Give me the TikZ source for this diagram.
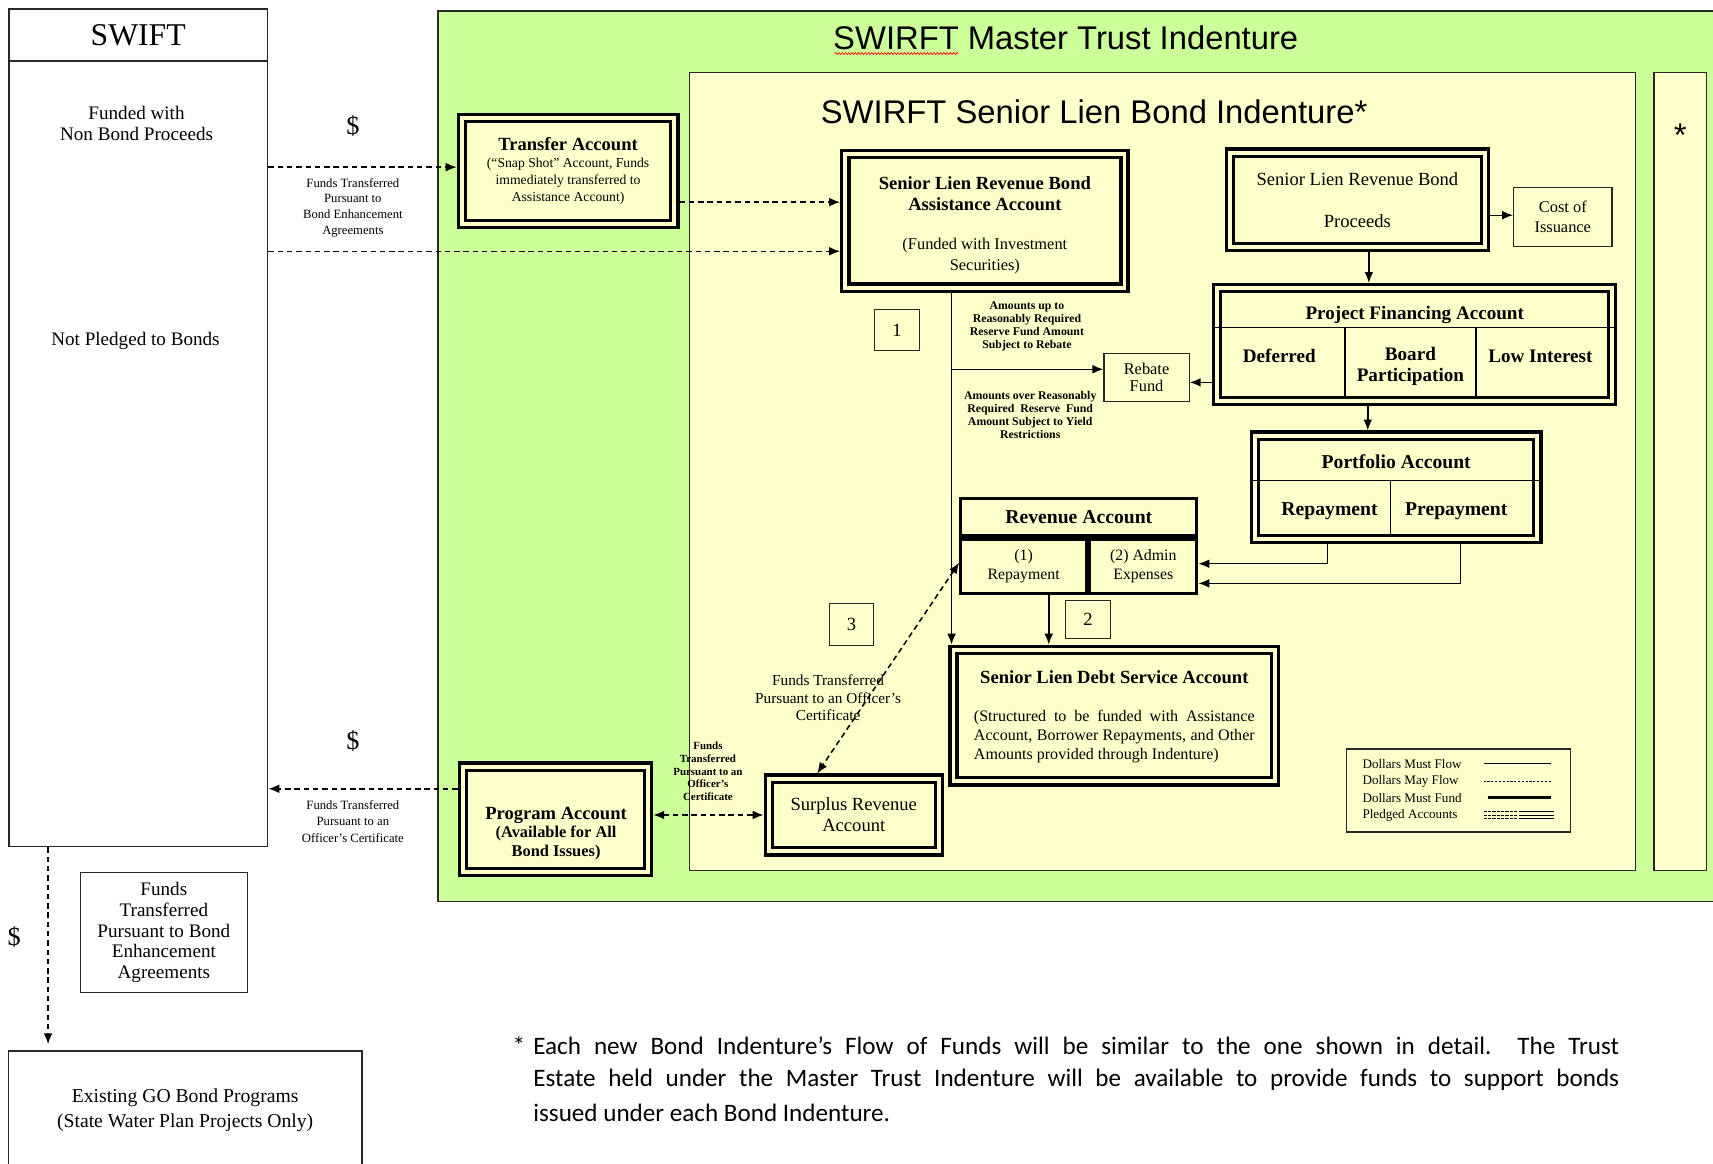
\documentclass[tikz,border=0pt]{standalone}
\usepackage{fontspec}
\setmainfont{Liberation Serif}
\newfontfamily\arialfam{Liberation Sans}
\newfontfamily\califam{Carlito}
\usetikzlibrary{arrows.meta,decorations.pathmorphing}
\definecolor{mgreen}{RGB}{204,255,153}
\definecolor{myel}{RGB}{255,255,204}
\definecolor{edge}{RGB}{40,40,40}
\newcommand\myfs[2]{\fontsize{#1}{#2}\selectfont}
\begin{document}
\begin{tikzpicture}[x=1pt,y=-1pt,
 >={Latex[length=10pt,width=8pt]},
 pledged/.style={draw=black,line width=3pt,double=myel,double distance=3.5pt,fill=myel,outer sep=4.75pt,inner sep=0pt,align=center},
 thinbox/.style={draw=edge,line width=1.1pt,fill=myel,inner sep=0pt,align=center},
 thickbox/.style={draw=black,line width=3pt,fill=myel,inner sep=0pt,align=center},
 panel/.style={draw=edge,line width=1.1pt,fill=myel,inner sep=0pt},
 lbl/.style={inner sep=0pt,align=center},
 mustflow/.style={draw=black,line width=1.3pt,->},
 mayflow/.style={draw=black,line width=1.4pt,dash pattern=on 5pt off 3.5pt,->},
 divline/.style={draw=black,line width=1.2pt},
 sanstitle/.style={inner sep=0pt,font=\arialfam\myfs{30}{34}},
]
\useasboundingbox (0,0) rectangle (1568,1065);
\fill[white] (0,0) rectangle (1568,1065);

% Master trust (green)
\fill[mgreen] (401,10) rectangle (1568,825);
\draw[draw=edge,line width=1.3pt] (1568,10) -- (401,10) -- (401,825) -- (1568,825);
\node[sanstitle] (mtitle) at (975.5,35) {SWIRFT Master Trust Indenture};
\draw[red,line width=0.6pt,decorate,decoration={snake,amplitude=0.9pt,segment length=3pt}] (764,49) -- (877,49);

% Senior lien indenture (yellow) and strip
\node[panel,minimum width=866pt,minimum height=731pt] (senior) at (1064,431.5) {};
\node[panel,minimum width=48pt,minimum height=731pt] (strip) at (1538,431.5) {};
\node[sanstitle] (stitle) at (1001.5,102) {SWIRFT Senior Lien Bond Indenture*};
\node[sanstitle] (stripstar) at (1538,124) {*};

% SWIFT column
\node[thinbox,fill=white,line width=1.4pt,minimum width=237pt,minimum height=767pt] (swift) at (126.5,391.5) {};
\coordinate (swdiv) at (0,56);
\draw[draw=edge,line width=1.4pt] (swift.west |- swdiv) -- (swift.east |- swdiv);
\node[lbl,font=\myfs{29}{32}] (swiftt) at (126.5,32) {SWIFT};
\node[lbl,font=\myfs{17.5}{20}] (swiftf) at (125,113) {Funded with\\Non Bond Proceeds};
\node[lbl,font=\myfs{17.5}{20}] (swiftn) at (124,312) {Not Pledged to Bonds};

\node[lbl,font=\myfs{24}{26}] (dol1) at (323,115) {\$};
\node[lbl,font=\myfs{11.6}{14.3}] (lblbe) at (323,190) {Funds Transferred\\Pursuant to\\Bond Enhancement\\Agreements};

% Transfer account
\node[pledged,minimum width=194.5pt,minimum height=97.5pt,font=\myfs{12.5}{15.5}] (transfer) at (520,156.5) {\bfseries\myfs{17}{15.5}Transfer Account\\\mdseries(“Snap Shot” Account, Funds\\\mdseries immediately transferred to\\\mdseries Assistance Account)};

% Assistance account
\node[pledged,minimum width=255.5pt,minimum height=122.5pt] (assist) at (901.5,202) {};
\node[lbl,font=\myfs{15}{19}] (assisttxt) at (901.5,206) {\bfseries\myfs{17}{19}Senior Lien Revenue Bond\\\bfseries\myfs{17}{19}Assistance Account\\[17pt]\mdseries(Funded with Investment\\\mdseries Securities)};

% Proceeds
\node[pledged,minimum width=233.5pt,minimum height=86.5pt,font=\myfs{17}{19}] (proceeds) at (1242.5,183) {Senior Lien Revenue Bond\\[19pt]Proceeds};
\node[thinbox,minimum width=90pt,minimum height=54pt,font=\myfs{15}{19}] (cost) at (1430.5,198.5) {Cost of\\Issuance};

% Project financing
\node[pledged,minimum width=361.5pt,minimum height=103.5pt] (projfin) at (1294.5,315.5) {};
\coordinate (pfh) at (0,300);
\draw[divline] ([xshift=2pt]projfin.west |- pfh) -- ([xshift=-2pt]projfin.east |- pfh);
\draw[divline] (1231,300) -- (1231,362.5);
\draw[divline] (1351,300) -- (1351,362.5);
\node[lbl,font=\bfseries\myfs{17.5}{19}] (pfat) at (1295,288) {Project Financing Account};
\node[lbl,font=\bfseries\myfs{17.5}{19}] (pfad) at (1171,326) {Deferred};
\node[lbl,font=\bfseries\myfs{17.5}{19}] (pfab) at (1291,335.5) {Board\\Participation};
\node[lbl,font=\bfseries\myfs{17.5}{19}] (pfal) at (1410,326) {Low Interest};

% Rebate fund, box 1
\node[thinbox,minimum width=78pt,minimum height=44pt,font=\myfs{15}{15}] (rebate) at (1049.5,345.5) {Rebate\\Fund};
\node[thinbox,minimum width=41pt,minimum height=37pt,font=\myfs{17}{19}] (n1) at (821,302) {1};
\node[lbl,font=\bfseries\myfs{10.8}{12}] (amt1) at (940,299) {Amounts up to\\Reasonably Required\\Reserve Fund Amount\\Subject to Rebate};
\node[lbl,font=\bfseries\myfs{10.8}{12}] (amt2) at (943,380) {Amounts over Reasonably\\Required\ \ Reserve\ \ Fund\\Amount Subject to Yield\\Restrictions};

% Portfolio
\node[pledged,minimum width=258.5pt,minimum height=94.5pt] (portfolio) at (1278,446) {};
\coordinate (pfo) at (0,440);
\draw[divline] ([xshift=2pt]portfolio.west |- pfo) -- ([xshift=-2pt]portfolio.east |- pfo);
\draw[divline] (1273,440) -- (1273,489.5);
\node[lbl,font=\bfseries\myfs{18}{20}] (pot) at (1278,423) {Portfolio Account};
\node[lbl,font=\bfseries\myfs{18}{20}] (por) at (1217,468) {Repayment};
\node[lbl,font=\bfseries\myfs{18}{20}] (pop) at (1333,468) {Prepayment};

% Revenue account
\node[thickbox,minimum width=216pt,minimum height=34pt,font=\bfseries\myfs{18}{20}] (revhead) at (987.5,473.5) {Revenue Account};
\node[thickbox,minimum width=115pt,minimum height=50pt,font=\myfs{14.5}{17}] (rev1) at (937,518.5) {(1)\\Repayment};
\node[thickbox,minimum width=98pt,minimum height=50pt,font=\myfs{14.5}{17}] (rev2) at (1046.5,518.5) {(2) Admin\\Expenses};

\node[thinbox,minimum width=41pt,minimum height=35pt,font=\myfs{17}{19}] (n2) at (996,567) {2};
\node[thinbox,minimum width=40pt,minimum height=38pt,font=\myfs{17}{19}] (n3) at (779.5,571.5) {3};

% Debt service
\node[pledged,minimum width=294.5pt,minimum height=120.5pt] (debt) at (1020,655) {};
\node[lbl,font=\myfs{14.7}{17.5}] (debttxt) at (1020,656) {\bfseries\myfs{17}{17.5}Senior Lien Debt Service Account\\[17pt]\mdseries\makebox[257pt][s]{(Structured to be funded with Assistance}\\\mdseries\makebox[257pt][s]{Account, Borrower Repayments, and Other}\\\mdseries\makebox[257pt][l]{Amounts provided through Indenture)}};

% Surplus, Program
\node[pledged,minimum width=155.5pt,minimum height=66.5pt,font=\myfs{17}{19}] (surplus) at (781.5,746) {Surplus Revenue\\Account};
\node[pledged,minimum width=169.5pt,minimum height=96.5pt] (program) at (508.5,750) {};
\node[lbl,font=\bfseries\myfs{15}{17}] (progtxt) at (509,763) {\bfseries\myfs{17}{17}Program Account\\\bfseries(Available for All\\\bfseries Bond Issues)};

\node[lbl,font=\myfs{24}{26}] (dol2) at (323,678) {\$};
\node[lbl,font=\myfs{11.6}{14.8}] (lbloc) at (323,752) {Funds Transferred\\Pursuant to an\\Officer’s Certificate};
\node[lbl,font=\myfs{14}{16}] (ocl) at (758,639) {Funds Transferred\\Pursuant to an Officer’s\\Certificate};
\node[lbl,font=\bfseries\myfs{10}{11.5}] (psl) at (648,706) {Funds\\Transferred\\Pursuant to an\\Officer’s\\Certificate};

% Legend
\node[thinbox,minimum width=205pt,minimum height=76pt] (legend) at (1335,723.5) {};
\node[lbl,anchor=west,font=\myfs{12}{13}] (lg1) at (1247,699) {Dollars Must Flow};
\node[lbl,anchor=west,font=\myfs{12}{13}] (lg2) at (1247,715) {Dollars May Flow};
\node[lbl,anchor=west,font=\myfs{12}{13}] (lg3) at (1247,730) {Dollars Must Fund};
\node[lbl,anchor=west,font=\myfs{12}{13}] (lg4) at (1247,746) {Pledged Accounts};
\draw[line width=1pt] (1358,699) -- (1420,699);
\draw[line width=0.9pt,dash pattern=on 2pt off 1.5pt] (1358,715) -- (1420,715);
\draw[line width=2.5pt] (1362,730) -- (1420,730);
\foreach \yy in {743,746,749} {
  \draw[line width=0.8pt,dash pattern=on 3pt off 1pt] (1358,\yy) -- (1393,\yy);
  \draw[line width=0.8pt] (1393,\yy) -- (1422,\yy);
}

% Bottom left
\node[thinbox,fill=white,minimum width=153pt,minimum height=110pt,font=\myfs{17.5}{19}] (fundsbox) at (150,853.5) {Funds\\Transferred\\Pursuant to Bond\\Enhancement\\Agreements};
\node[lbl,font=\myfs{24}{26}] (dol3) at (13,858) {\$};
\node[lbl,minimum width=323pt,minimum height=109pt,font=\myfs{18}{23}] (gobond) at (169.5,1016.5) {Existing GO Bond Programs\\(State Water Plan Projects Only)};
\coordinate (pgbot) at (0,1066);
\draw[draw=edge,line width=1.4pt] (gobond.north west |- pgbot) -- (gobond.north west) -- (gobond.north east) -- (gobond.north east |- pgbot);

% Footnote
\node[lbl,font=\califam\myfs{23}{31}] (fnstar) at (475,957) {*};
\node[lbl,anchor=west,font=\califam\myfs{23}{31}] (fn1) at (488,957) {\makebox[994pt][s]{Each new Bond Indenture’s Flow of Funds will be similar to the one shown in detail.\ \ The Trust}};
\node[lbl,anchor=west,font=\califam\myfs{23}{31}] (fn2) at (488,988) {\makebox[994pt][s]{Estate held under the Master Trust Indenture will be available to provide funds to support bonds}};
\node[lbl,anchor=west,font=\califam\myfs{23}{31}] (fn3) at (488,1019) {issued under each Bond Indenture.};

% Connectors
\draw[mayflow] ([yshift=3.5pt]transfer.west -| swift.east) -- ([yshift=3.5pt]transfer.west);
\draw[mayflow] ([yshift=-28.5pt]transfer.east) -- ([yshift=-28.5pt]transfer.east -| assist.west);
\draw[mayflow] ([yshift=-28pt]assist.west -| swift.east) -- ([yshift=-28pt]assist.west);
\draw[mustflow] ([yshift=-14pt]proceeds.east) -- ([yshift=-14pt]proceeds.east -| cost.west);
\draw[mustflow] ([xshift=10.5pt]proceeds.south) -- ([xshift=10.5pt]proceeds.south |- projfin.north);
\draw[mustflow] ([yshift=-34.5pt]projfin.west) -- ([yshift=-34.5pt]projfin.west -| rebate.east);
\draw[mustflow] ([xshift=-26pt]portfolio.north |- projfin.south) -- ([xshift=-26pt]portfolio.north);
\coordinate (trunk) at ([xshift=-30.5pt]assist.south);
\draw[mustflow] (trunk) -- (trunk |- debt.north);
\draw[mustflow] ([yshift=7.5pt]rebate.west -| trunk) -- ([yshift=7.5pt]rebate.west);
\draw[mustflow] ([xshift=-63pt]portfolio.south) |- ([yshift=2.5pt]rev2.east);
\draw[mustflow] ([xshift=59pt]portfolio.south) |- ([yshift=-15.5pt]rev2.east);
\draw[mustflow] ([xshift=23pt]rev1.south) -- ([xshift=23pt]rev1.south |- debt.north);
\draw[mayflow,<->] ([yshift=3.5pt]rev1.west) -- ([xshift=-33.5pt]surplus.north);
\draw[mayflow] ([yshift=28pt]program.west) -- ([yshift=28pt]program.west -| swift.east);
\draw[mayflow,<->] ([yshift=4pt]program.east) -- ([yshift=4pt]program.east -| surplus.west);
\draw[mayflow,shorten >=6pt] ([xshift=-82.5pt]swift.south) -- ([xshift=-82.5pt]swift.south |- gobond.north);
\end{tikzpicture}
\end{document}
